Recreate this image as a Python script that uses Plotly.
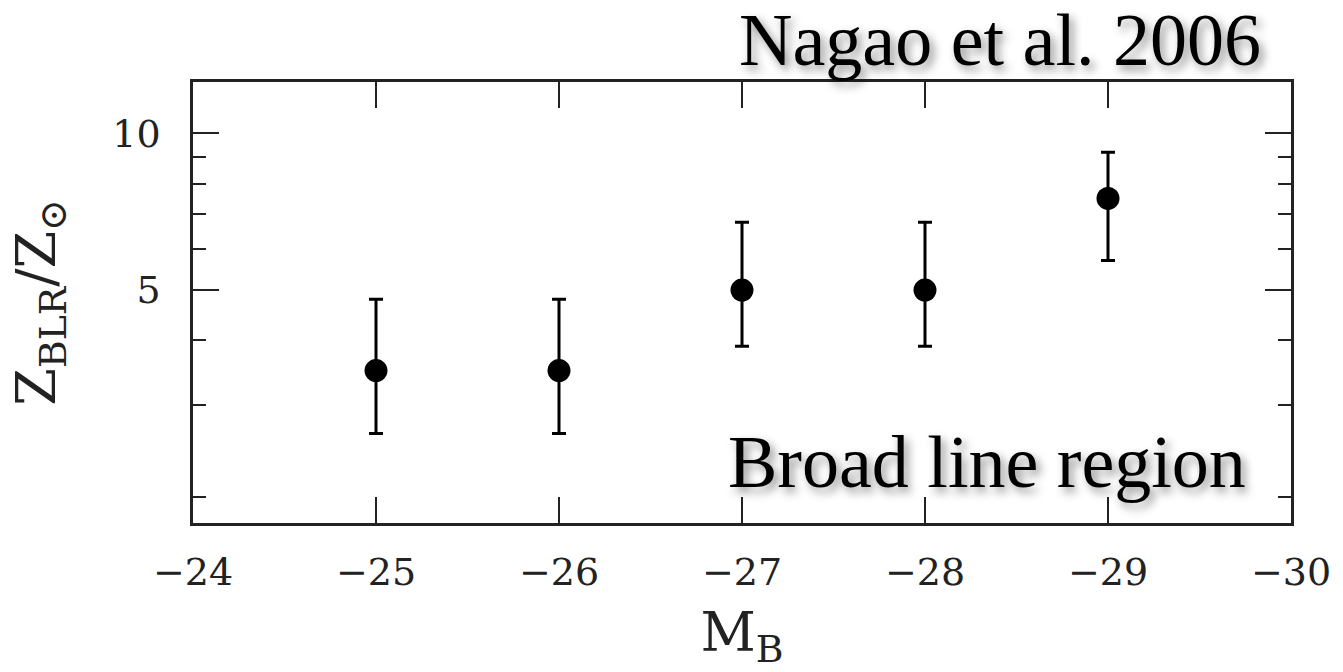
import plotly.graph_objects as go

# Data
mag_b = [-25, -26, -27, -28, -29]
z_blr = [3.5, 3.5, 5.0, 5.0, 7.5]
z_upper = [4.8, 4.8, 6.75, 6.75, 9.2]
z_lower = [2.65, 2.65, 3.9, 3.9, 5.7]

x_ticks = [-24, -25, -26, -27, -28, -29, -30]
y_major = [5, 10]
y_minor = [2, 3, 4, 6, 7, 8, 9]

err_plus = [u - v for u, v in zip(z_upper, z_blr)]
err_minus = [v - l for v, l in zip(z_blr, z_lower)]

fig = go.Figure()
fig.add_trace(go.Scatter(
    x=mag_b, y=z_blr, mode="markers",
    marker=dict(color="black", size=23),
    error_y=dict(type="data", symmetric=False, array=err_plus, arrayminus=err_minus,
                 color="black", thickness=3, width=7),
    showlegend=False,
))

tick_font = dict(family="DejaVu Serif", size=38, color="#222")
fig.update_xaxes(
    range=[-24, -30], tickvals=x_ticks, ticktext=["\u2212%d" % abs(v) for v in x_ticks],
    ticks="inside", ticklen=26, tickwidth=2, tickcolor="#222",
    showline=True, linewidth=2.5, linecolor="#222", mirror="ticks",
    showgrid=False, zeroline=False, tickfont=tick_font, ticklabelstandoff=14,
    title=dict(text="M<sub>B</sub>", font=dict(family="DejaVu Serif", size=54, color="#222"), standoff=20),
)
fig.update_yaxes(
    type="log", range=[0.251, 1.099], tickvals=y_major, ticktext=[str(v) for v in y_major],
    ticks="inside", ticklen=26, tickwidth=2, tickcolor="#222",
    minor=dict(tickvals=y_minor, ticks="inside", ticklen=13, tickwidth=2, tickcolor="#222", showgrid=False),
    showline=True, linewidth=2.5, linecolor="#222", mirror="ticks",
    showgrid=False, zeroline=False, tickfont=tick_font, ticklabelstandoff=22,
    title=dict(text="Z<sub>BLR</sub>/Z<sub>\u2299</sub>", font=dict(family="DejaVu Serif", size=54, color="#222"), standoff=40),
)

shadow = "4px 5px 10px rgba(0,0,0,0.45)"
fig.add_annotation(text="Nagao et al. 2006", xref="paper", yref="paper", x=0.9747, y=1.096,
                   xanchor="right", yanchor="middle", showarrow=False,
                   font=dict(family="Liberation Serif", size=74, color="black", shadow=shadow))
fig.add_annotation(text="Broad line region", xref="paper", yref="paper", x=0.961, y=0.138,
                   xanchor="right", yanchor="middle", showarrow=False,
                   font=dict(family="Liberation Serif", size=74, color="black", shadow=shadow))

fig.update_layout(
    width=1343, height=672,
    margin=dict(l=193, r=45, t=82, b=149),
    paper_bgcolor="white", plot_bgcolor="white",
)

fig.write_html("out.html")
